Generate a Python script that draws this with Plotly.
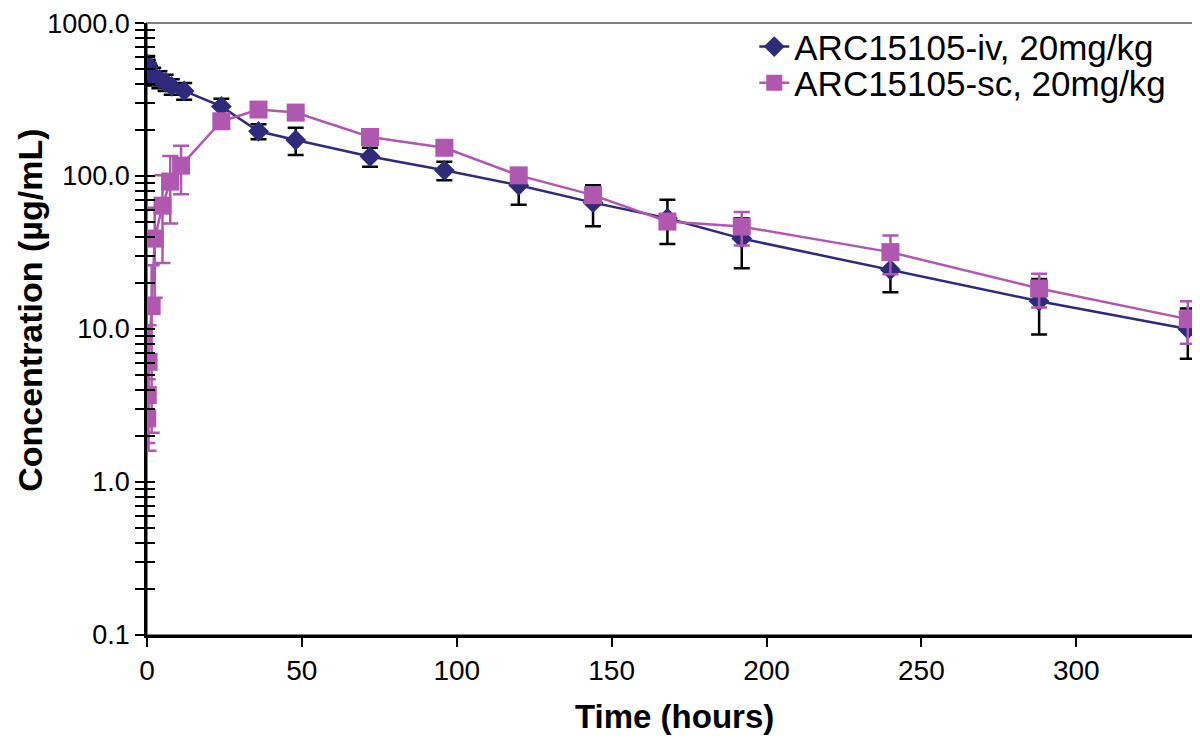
import plotly.graph_objects as go

# ---- data ----
t_iv = [0.083, 0.25, 0.5, 1, 2, 4, 6, 8, 12, 24, 36, 48, 72, 96, 120, 144, 168, 192, 240, 288, 336]
c_iv = [540, 515, 490, 470, 450, 430, 410, 385, 360, 285, 196, 172, 134, 109, 87, 67, 53, 39, 24.4, 15.2, 10.0]
e_iv = [70, 60, 60, 55, 60, 55, 50, 45, 45, 35, 22, 35, 19, 15, 22, 20, 17, 14, 7, 6, 3.6]

t_sc = [0.083, 0.25, 0.5, 1.5, 2.5, 5, 7.5, 11, 24, 36, 48, 72, 96, 120, 144, 168, 192, 240, 288, 336]
c_sc = [2.6, 3.7, 6.1, 14.1, 39, 64, 92, 117, 228, 272, 260, 180, 153, 101, 75, 50.4, 46.7, 31.8, 18.4, 11.6]
e_sc = [0.8, 1.0, 4.5, 12, 23, 37, 43, 41, 20, 15, 15, 12, 10, 8, 6, 5, 11.6, 9, 4.6, 3.6]

name_iv = "ARC15105-iv, 20mg/kg"
name_sc = "ARC15105-sc, 20mg/kg"

x_ticks = [0, 50, 100, 150, 200, 250, 300]
y_major = [0.1, 1, 10, 100, 1000]
y_major_text = ["0.1", "1.0", "10.0", "100.0", "1000.0"]

x_title = "Time (hours)"
y_title = "Concentration (µg/mL)"

# ---- styling ----
IV_COLOR = "#2E2A7C"
SC_COLOR = "#B058B0"
FONT = "Liberation Sans, Arial, sans-serif"

# all log ticks (majors + minors 2..9)
y_tickvals, y_ticktext = [], []
for i, m in enumerate(y_major):
    y_tickvals.append(m)
    y_ticktext.append(y_major_text[i])
    if m < 1000:
        for k in range(2, 10):
            y_tickvals.append(m * k)
            y_ticktext.append("")

fig = go.Figure()

fig.add_trace(go.Scatter(
    x=t_iv, y=c_iv, name=name_iv, mode="lines+markers", legend="legend",
    line=dict(color=IV_COLOR, width=2.5),
    marker=dict(symbol="diamond", size=16, color=IV_COLOR),
    error_y=dict(type="data", array=e_iv, visible=True, color="black", thickness=2.5, width=8),
))
fig.add_trace(go.Scatter(
    x=t_sc, y=c_sc, name=name_sc, mode="lines+markers", legend="legend2",
    line=dict(color=SC_COLOR, width=2.5),
    marker=dict(symbol="square", size=18, color=SC_COLOR),
    error_y=dict(type="data", array=e_sc, visible=True, color=SC_COLOR, thickness=2.5, width=8),
))
# invisible trace to activate the overlay axis (used for crossing ticks)
fig.add_trace(go.Scatter(
    x=t_iv, y=c_iv, yaxis="y2", mode="markers", marker=dict(opacity=0),
    showlegend=False, hoverinfo="skip",
))

legend_style = dict(
    xanchor="left", yanchor="middle",
    bgcolor="rgba(0,0,0,0)", borderwidth=0,
    font=dict(family=FONT, size=35, color="black"),
)

fig.update_layout(
    width=1192, height=735,
    margin=dict(l=139, r=6, t=15, b=108),
    paper_bgcolor="white", plot_bgcolor="white",
    font=dict(family=FONT, color="black", size=27),
    showlegend=True,
    legend=dict(x=0.580, y=0.961, **legend_style),
    legend2=dict(x=0.580, y=0.902, **legend_style),
    xaxis=dict(
        range=[0, 338], tickvals=x_ticks, ticktext=[str(v) for v in x_ticks],
        ticks="outside", ticklen=9, tickwidth=2, tickcolor="black",
        showline=True, linecolor="black", linewidth=2.5,
        showgrid=False, zeroline=False, automargin=False,
        tickfont=dict(family=FONT, size=28),
    ),
    yaxis=dict(
        type="log", range=[-1.0004, 3.0004],
        tickvals=y_tickvals, ticktext=y_ticktext,
        ticks="outside", ticklen=9, tickwidth=2, tickcolor="black",
        showline=True, linecolor="black", linewidth=2.5,
        showgrid=False, zeroline=False, automargin=False,
        ticklabeloverflow="allow",
        tickfont=dict(family=FONT, size=27),
    ),
    yaxis2=dict(
        type="log", range=[-1.0004, 3.0004], overlaying="y", side="left", anchor="x",
        tickvals=y_tickvals, ticktext=["" for _ in y_tickvals],
        ticks="inside", ticklen=8, tickwidth=2, tickcolor="black",
        showline=False, showgrid=False, zeroline=False, showticklabels=False,
    ),
    annotations=[
        dict(text="<b>" + x_title + "</b>", xref="paper", yref="paper",
             x=0.504, y=-0.1324, xanchor="center", yanchor="middle", showarrow=False,
             font=dict(family=FONT, size=33, color="black")),
        dict(text="<b>" + y_title + "</b>", xref="paper", yref="paper",
             x=-0.1119, y=0.531, xanchor="center", yanchor="middle", showarrow=False,
             textangle=-90, font=dict(family=FONT, size=34, color="black")),
    ],
    shapes=[dict(type="rect", xref="paper", yref="paper", x0=0, y0=0, x1=1, y1=1,
                 line=dict(color="#808080", width=2), layer="below")],
)

fig.write_html("out.html")
